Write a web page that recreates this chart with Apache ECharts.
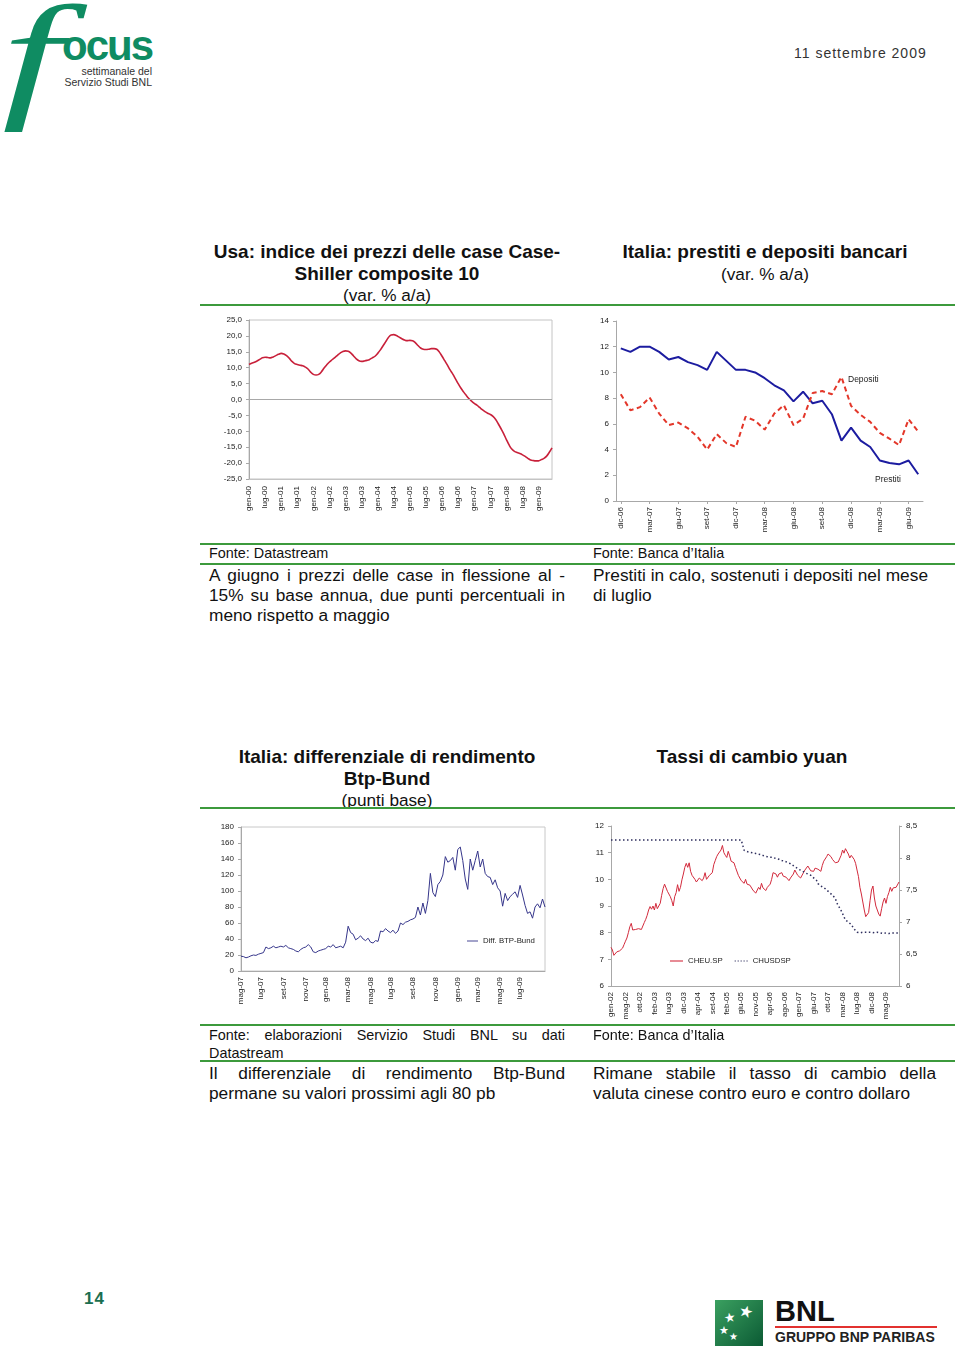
<!DOCTYPE html>
<html><head><meta charset="utf-8">
<script src="https://cdn.jsdelivr.net/npm/echarts@6/dist/echarts.min.js"></script>
<style>
body{margin:0;width:960px;height:1356px;position:relative;background:#fff;overflow:hidden;font-family:"Liberation Sans",Arial,sans-serif;color:#111}
.hr{position:absolute;height:2px;background:#3c9a3c}
.title{position:absolute;text-align:center;font-weight:bold;font-size:19px;line-height:21.5px;white-space:nowrap}
.sub{font-weight:normal;font-size:17.2px}
.src{position:absolute;font-size:14.4px;line-height:18px;white-space:nowrap}
.txt{position:absolute;font-size:17.3px;line-height:20px;white-space:nowrap}
.j{text-align:justify;text-align-last:justify;white-space:normal}
.chart{position:absolute}
</style></head><body>
<!-- header -->
<div style="position:absolute;left:2px;top:-15px;font:italic 140px 'Liberation Serif',serif;color:#0f8c62;line-height:140px;transform:scaleX(1.55);transform-origin:0 0">f</div>
<div style="position:absolute;left:62px;top:24px;font:bold 42px 'Liberation Sans',sans-serif;color:#0f8c62;letter-spacing:-2px;line-height:44px">ocus</div>
<div style="position:absolute;left:40px;width:112px;top:66px;text-align:right;font:10.5px 'Liberation Sans',sans-serif;color:#333;line-height:11px">settimanale del<br>Servizio Studi BNL</div>
<div style="position:absolute;left:794px;top:45px;font:14px 'Liberation Sans',sans-serif;letter-spacing:1px;color:#333">11 settembre 2009</div>

<!-- top titles -->
<div class="title" style="left:187px;width:400px;top:241px">Usa: indice dei prezzi delle case Case-<br>Shiller composite 10<br><span class="sub">(var. % a/a)</span></div>
<div class="title" style="left:565px;width:400px;top:241px">Italia: prestiti e depositi bancari<br><span class="sub">(var. % a/a)</span></div>
<div class="hr" style="left:200px;width:755px;top:304px"></div>

<div id="c1" class="chart" style="left:200px;top:310px;width:360px;height:220px"></div>
<div id="c2" class="chart" style="left:590px;top:310px;width:370px;height:228px"></div>

<div class="hr" style="left:200px;width:755px;top:543px"></div>
<div class="src" style="left:209px;top:544px">Fonte: Datastream</div>
<div class="src" style="left:593px;top:544px">Fonte: Banca d’Italia</div>
<div class="hr" style="left:200px;width:755px;top:563px"></div>
<div class="txt" style="left:209px;top:565px;width:356px">
  <div class="j">A giugno i prezzi delle case in flessione al -</div>
  <div class="j">15% su base annua, due punti percentuali in</div>
  <div>meno rispetto a maggio</div>
</div>
<div class="txt" style="left:593px;top:565px;width:335px">
  <div class="j">Prestiti in calo, sostenuti i depositi nel mese</div>
  <div>di luglio</div>
</div>

<!-- bottom titles -->
<div class="title" style="left:187px;width:400px;top:746px">Italia: differenziale di rendimento<br>Btp-Bund<br><span class="sub">(punti base)</span></div>
<div class="title" style="left:552px;width:400px;top:746px">Tassi di cambio yuan</div>
<div class="hr" style="left:200px;width:755px;top:807px"></div>

<div id="c3" class="chart" style="left:200px;top:815px;width:360px;height:200px"></div>
<div id="c4" class="chart" style="left:590px;top:815px;width:370px;height:212px"></div>

<div class="hr" style="left:200px;width:755px;top:1024px"></div>
<div class="src" style="left:209px;top:1026px;width:356px">
  <div class="j">Fonte: elaborazioni Servizio Studi BNL su dati</div>
  <div>Datastream</div>
</div>
<div class="src" style="left:593px;top:1026px">Fonte: Banca d’Italia</div>
<div class="hr" style="left:200px;width:755px;top:1060px"></div>
<div class="txt" style="left:209px;top:1063px;width:356px">
  <div class="j">Il differenziale di rendimento Btp-Bund</div>
  <div>permane su valori prossimi agli 80 pb</div>
</div>
<div class="txt" style="left:593px;top:1063px;width:343px">
  <div class="j">Rimane stabile il tasso di cambio della</div>
  <div>valuta cinese contro euro e contro dollaro</div>
</div>

<!-- footer -->
<div style="position:absolute;left:84px;top:1289px;font:bold 17px 'Liberation Sans',sans-serif;color:#1b6e50;letter-spacing:1px">14</div>
<div style="position:absolute;left:715px;top:1300px;width:48px;height:46px;background:linear-gradient(135deg,#3aa060,#0b5a34);overflow:hidden">
  <div style="position:absolute;left:24px;top:2px;color:#fff;font:16px 'DejaVu Sans';transform:rotate(15deg)">★</div>
  <div style="position:absolute;left:9px;top:10px;color:#fff;font:13px 'DejaVu Sans';transform:rotate(-10deg)">★</div>
  <div style="position:absolute;left:4px;top:24px;color:#fff;font:11px 'DejaVu Sans'">★</div>
  <div style="position:absolute;left:14px;top:31px;color:#fff;font:10px 'DejaVu Sans'">★</div>
</div>
<div style="position:absolute;left:775px;top:1296px;font:bold 29px 'Liberation Sans',sans-serif;color:#111;line-height:30px">BNL</div>
<div style="position:absolute;left:775px;top:1326px;width:162px;height:2px;background:#e2312f"></div>
<div style="position:absolute;left:775px;top:1330px;font:bold 14px 'Liberation Sans',sans-serif;color:#222;line-height:15px">GRUPPO BNP PARIBAS</div>

<script>
const FONT = '"Liberation Sans",Arial,sans-serif';
const monthAbbr = ['gen','feb','mar','apr','mag','giu','lug','ago','set','ott','nov','dic'];

// ---- Chart 1: Case-Shiller composite 10, monthly gen-00 .. giu-09 (var. % a/a)
const csStartYear = 2000;
const caseShiller = [
 11.0,11.4,11.7,12.1,12.6,13.1,13.3,13.2,13.1,13.4,13.8,14.2,
 14.5,14.3,13.8,13.0,12.0,11.3,11.0,10.8,10.6,10.2,9.6,8.6,
 7.9,7.7,7.9,8.7,9.9,10.9,11.8,12.5,13.2,13.9,14.6,15.1,
 15.3,15.2,14.6,13.7,12.8,12.2,12.0,12.1,12.3,12.6,13.1,13.6,
 14.5,15.6,16.9,18.2,19.5,20.3,20.4,20.1,19.6,19.1,18.7,18.5,
 18.6,18.5,17.9,17.0,16.2,15.8,15.7,15.8,16.0,16.0,15.8,14.9,
 13.6,12.2,10.8,9.3,8.0,6.5,5.0,3.6,2.4,1.3,0.3,-0.5,
 -1.2,-1.8,-2.5,-3.2,-3.8,-4.3,-4.7,-5.3,-6.3,-7.7,-9.2,-10.8,
 -12.6,-14.3,-15.6,-16.3,-16.7,-17.0,-17.4,-17.9,-18.5,-19.0,-19.2,-19.3,
 -19.3,-18.9,-18.5,-17.8,-16.6,-15.2
];
const csCats = caseShiller.map((_, i) => monthAbbr[i % 12] + '-' + String((csStartYear + Math.floor(i / 12)) % 100).padStart(2, '0'));

// ---- Chart 2: prestiti e depositi, dic-06 .. lug-09
const bankCats = ['dic-06','gen-07','feb-07','mar-07','apr-07','mag-07','giu-07','lug-07','ago-07','set-07','ott-07','nov-07',
 'dic-07','gen-08','feb-08','mar-08','apr-08','mag-08','giu-08','lug-08','ago-08','set-08','ott-08','nov-08',
 'dic-08','gen-09','feb-09','mar-09','apr-09','mag-09','giu-09','lug-09'];
const prestiti = [11.87,11.6,12.0,12.0,11.6,11.0,11.2,10.8,10.57,10.2,11.6,10.9,
 10.2,10.2,10.0,9.55,9.0,8.6,7.75,8.5,7.6,7.8,6.75,4.7,
 5.7,4.7,4.2,3.15,2.95,2.85,3.15,2.08];
const depositi = [8.3,7.05,7.3,8.05,6.8,5.9,6.1,5.65,5.0,4.0,5.2,4.5,
 4.2,6.55,6.25,5.55,6.8,7.45,5.9,6.4,8.4,8.55,8.3,9.65,
 7.4,6.7,6.15,5.3,4.85,4.35,6.35,5.4];

// ---- Chart 3: Diff. BTP-Bund, weekly from mid-May 2007 (punti base)
const btpStart = [2007, 4, 9];
const btpBund = [
 18.5,18,16.5,17.5, 19,20,19.5,21,22, 23,30,28,29, 31,29,30,31,30, 32,29,28,27, 25,24,27,29,
 30,33,30,24,23, 25,26,27,28, 31,30,33,29, 30,31,29,36,56, 48,46,39,41, 44,40,38,41,
 36,35,38,37,50, 49,53,50,48, 51,47,50,60, 58,61,62,64,65, 67,80,70,85, 72,88,122,98,93,
 108,112,120,143, 136,138,142,126, 152,155,138,115,102, 140,126,138,150, 130,140,122,118,
 117,108,114,104, 100,81,97,88,93, 96,99,92,107, 95,82,72,74,66, 80,84,79,90, 80
];
const btpCats = btpBund.map((_, i) => {
  const d = new Date(Date.UTC(btpStart[0], btpStart[1], btpStart[2] + 7 * i));
  return monthAbbr[d.getUTCMonth()] + '-' + String(d.getUTCFullYear() % 100).padStart(2, '0');
});
const btpLabelShown = (i) => {
  if (i === 0) return true;
  if (i > btpCats.length - 4) return false;
  if (btpCats[i] === btpCats[i - 1]) return false;
  return monthAbbr.indexOf(btpCats[i].slice(0, 3)) % 2 === 0;
};

// ---- Chart 4: yuan exchange rates, biweekly from gen-02
const fxTicks = ['gen-02','mag-02','ott-02','feb-03','lug-03','dic-03','apr-04','set-04','feb-05','giu-05',
 'nov-05','apr-06','ago-06','gen-07','giu-07','ott-07','mar-08','lug-08','dic-08','mag-09'];
const cheu = [
 7.45,7.35,7.15,7.22,7.28,7.25,7.32,7.30,7.42,7.55,
 7.68,7.80,8.00,8.22,8.35,8.10,8.05,8.12,8.05,8.15,
 8.08,8.12,8.25,8.38,8.50,8.65,8.85,8.98,8.88,9.00,
 8.85,9.10,8.90,8.85,9.10,9.40,9.65,9.82,9.75,9.55,
 9.50,9.35,9.20,9.00,9.35,9.50,9.80,9.55,9.70,9.98,
 10.20,10.45,10.60,10.45,10.62,10.30,10.15,10.20,10.00,9.90,
 9.85,10.05,10.12,9.95,10.05,10.25,10.00,10.05,10.15,10.10,
 10.25,10.55,10.70,10.85,10.95,11.00,11.10,11.27,11.00,10.90,
 10.82,11.05,10.88,10.68,10.75,10.62,10.45,10.38,10.15,10.05,
 9.95,10.02,9.85,10.00,9.82,9.88,9.78,9.75,9.60,9.55,
 9.48,9.55,9.70,9.62,9.85,9.68,9.62,9.58,9.70,9.75,
 9.82,10.00,10.25,10.32,10.20,10.08,10.20,10.15,10.25,10.12,
 10.18,10.08,10.02,9.95,10.05,10.12,10.20,10.35,10.30,10.15,
 10.10,10.05,10.12,10.25,10.35,10.42,10.50,10.45,10.32,10.25,
 10.30,10.42,10.45,10.38,10.45,10.30,10.52,10.68,10.75,10.85,
 10.95,11.00,10.85,10.75,10.70,10.62,10.55,10.65,10.58,10.90,
 11.10,10.98,11.15,11.05,10.95,10.80,10.90,10.85,10.75,10.60,
 10.35,10.10,9.70,9.45,9.15,8.85,8.60,8.55,8.75,9.20,
 9.60,9.75,9.30,9.00,8.85,8.70,8.62,8.90,9.15,9.30,
 9.10,9.35,9.50,9.70,9.55,9.68,9.62,9.70,9.75,9.90
];
const chusd = [
 8.28,8.28,8.28,8.28,8.28,8.28,8.28,8.28,8.28,8.28,
 8.28,8.28,8.28,8.28,8.28,8.28,8.28,8.28,8.28,8.28,
 8.28,8.28,8.28,8.28,8.28,8.28,8.28,8.28,8.28,8.28,
 8.28,8.28,8.28,8.28,8.28,8.28,8.28,8.28,8.28,8.28,
 8.28,8.28,8.28,8.28,8.28,8.28,8.28,8.28,8.28,8.28,
 8.28,8.28,8.28,8.28,8.28,8.28,8.28,8.28,8.28,8.28,
 8.28,8.28,8.28,8.28,8.28,8.28,8.28,8.28,8.28,8.28,
 8.28,8.28,8.28,8.28,8.28,8.28,8.28,8.28,8.28,8.28,
 8.28,8.28,8.28,8.28,8.28,8.28,8.28,8.28,8.28,8.28,
 8.28,8.28,8.12,8.11,8.10,8.10,8.09,8.09,8.08,8.08,
 8.07,8.06,8.06,8.05,8.05,8.04,8.03,8.03,8.02,8.02,
 8.01,8.02,8.01,8.00,7.99,7.98,7.98,7.97,7.96,7.96,
 7.95,7.94,7.93,7.92,7.91,7.90,7.88,7.87,7.85,7.84,
 7.82,7.81,7.80,7.79,7.77,7.76,7.75,7.74,7.73,7.71,
 7.69,7.67,7.65,7.60,7.57,7.56,7.55,7.54,7.53,7.50,
 7.48,7.46,7.44,7.42,7.40,7.37,7.30,7.26,7.22,7.18,
 7.13,7.08,7.03,7.01,7.00,6.99,6.96,6.93,6.89,6.86,
 6.84,6.83,6.83,6.83,6.84,6.85,6.84,6.83,6.84,6.86,
 6.84,6.83,6.83,6.83,6.84,6.83,6.83,6.83,6.82,6.83,
 6.83,6.83,6.82,6.83,6.83,6.83,6.83,6.83,6.83,6.83
];
const fxCats = cheu.map((_, i) => String(i));

const AX = '#a8a8a8';
const LBL = { color: '#222', fontSize: 8, fontFamily: FONT };
const LINE_ICON = 'path://M0,0h12v1h-12z';
const DOT_ICON = 'path://M0,0h1v1h-1z M2.5,0h1v1h-1z M5,0h1v1h-1z M7.5,0h1v1h-1z M10,0h1v1h-1z';

// Chart 1
echarts.init(document.getElementById('c1')).setOption({
  animation: false,
  grid: { left: 49, top: 10, width: 303, height: 159, show: true, borderColor: '#c4c4c4', borderWidth: 1, outerBoundsMode: 'none' },
  xAxis: { type: 'category', data: csCats, boundaryGap: false,
    axisLine: { show: true, onZero: false, lineStyle: { color: '#c4c4c4' } },
    axisTick: { show: false },
    axisLabel: Object.assign({ interval: 5, rotate: 90, margin: 7 }, LBL) },
  yAxis: { type: 'value', min: -25, max: 25, interval: 5,
    axisLine: { show: true, lineStyle: { color: AX } },
    axisTick: { show: true, length: 3, lineStyle: { color: AX } },
    splitLine: { show: false },
    axisLabel: Object.assign({ margin: 7, formatter: v => v.toFixed(1).replace('.', ',') }, LBL) },
  series: [{ type: 'line', data: caseShiller, smooth: 0.4, symbol: 'none',
    lineStyle: { color: '#c8203a', width: 1.6 },
    markLine: { silent: true, symbol: 'none', label: { show: false },
      lineStyle: { color: '#a8a8a8', type: 'solid', width: 1 }, data: [{ yAxis: 0 }] } }]
});

// Chart 2
echarts.init(document.getElementById('c2')).setOption({
  animation: false,
  grid: { left: 26, top: 11, width: 307, height: 180, outerBoundsMode: 'none' },
  xAxis: { type: 'category', data: bankCats, boundaryGap: true,
    axisLine: { show: true, lineStyle: { color: AX } },
    axisTick: { show: true, interval: 2, alignWithLabel: true, length: 3, lineStyle: { color: AX } },
    axisLabel: Object.assign({ interval: 2, rotate: 90, margin: 6 }, LBL) },
  yAxis: { type: 'value', min: 0, max: 14, interval: 2,
    axisLine: { show: true, lineStyle: { color: AX } },
    axisTick: { show: true, length: 3, lineStyle: { color: AX } },
    splitLine: { show: false },
    axisLabel: Object.assign({ margin: 7 }, LBL) },
  graphic: [
    { type: 'text', left: 258, top: 65, style: { text: 'Depositi', fill: '#222', font: '8.5px ' + FONT } },
    { type: 'text', left: 285, top: 165, style: { text: 'Prestiti', fill: '#222', font: '8.5px ' + FONT } }
  ],
  series: [
    { name: 'Prestiti', type: 'line', data: prestiti, symbol: 'none', lineStyle: { color: '#1c1ca0', width: 2 } },
    { name: 'Depositi', type: 'line', data: depositi, symbol: 'none', lineStyle: { color: '#e3372a', width: 2, type: [5, 3.5] } }
  ]
});

// Chart 3
echarts.init(document.getElementById('c3')).setOption({
  animation: false,
  grid: { left: 41, top: 12, width: 304, height: 144, show: true, borderColor: '#c8c8c8', borderWidth: 1, outerBoundsMode: 'none' },
  legend: { left: 262, top: 117, itemWidth: 11, itemHeight: 1.2, itemGap: 4,
    textStyle: { color: '#222', fontSize: 7.8, fontFamily: FONT },
    data: [{ name: 'Diff. BTP-Bund', icon: LINE_ICON }] },
  xAxis: { type: 'category', data: btpCats, boundaryGap: false,
    axisLine: { show: true, lineStyle: { color: AX } },
    axisTick: { show: false },
    axisLabel: Object.assign({ interval: (i) => btpLabelShown(i), rotate: 90, margin: 6 }, LBL) },
  yAxis: { type: 'value', min: 0, max: 180, interval: 20,
    axisLine: { show: true, lineStyle: { color: AX } },
    axisTick: { show: true, length: 3, lineStyle: { color: AX } },
    splitLine: { show: false },
    axisLabel: Object.assign({ margin: 7 }, LBL) },
  series: [{ name: 'Diff. BTP-Bund', type: 'line', data: btpBund, symbol: 'none',
    itemStyle: { color: '#35358a' }, lineStyle: { color: '#35358a', width: 1 } }]
});

// Chart 4
echarts.init(document.getElementById('c4')).setOption({
  animation: false,
  grid: { left: 21, top: 11, width: 288, height: 160, outerBoundsMode: 'none' },
  legend: { left: 75, top: 137, itemWidth: 13, itemHeight: 1.4, itemGap: 12,
    textStyle: { color: '#222', fontSize: 7.8, fontFamily: FONT },
    data: [{ name: 'CHEU.SP', icon: LINE_ICON }, { name: 'CHUSDSP', icon: DOT_ICON }] },
  xAxis: { type: 'category', data: fxCats, boundaryGap: false,
    axisLine: { show: true, lineStyle: { color: AX } },
    axisTick: { show: false },
    axisLabel: Object.assign({ interval: (i) => i % 10 === 0, rotate: 90, margin: 6,
      formatter: (v, i) => fxTicks[i / 10] || '' }, LBL) },
  yAxis: [
    { type: 'value', min: 6, max: 12, interval: 1, position: 'left',
      axisLine: { show: true, lineStyle: { color: AX } },
      axisTick: { show: true, length: 3, lineStyle: { color: AX } },
      splitLine: { show: false },
      axisLabel: Object.assign({ margin: 7 }, LBL) },
    { type: 'value', min: 6, max: 8.5, interval: 0.5, position: 'right',
      axisLine: { show: true, lineStyle: { color: AX } },
      axisTick: { show: true, length: 3, lineStyle: { color: AX } },
      splitLine: { show: false },
      axisLabel: Object.assign({ margin: 7, formatter: v => String(v).replace('.', ',') }, LBL) }
  ],
  series: [
    { name: 'CHEU.SP', type: 'line', data: cheu, symbol: 'none', yAxisIndex: 0,
      itemStyle: { color: '#d22a3c' }, lineStyle: { color: '#d22a3c', width: 1 } },
    { name: 'CHUSDSP', type: 'line', data: chusd, symbol: 'none', yAxisIndex: 1,
      itemStyle: { color: '#2e2e5e' }, lineStyle: { color: '#2e2e5e', width: 1.5, type: [1.5, 2.5] } }
  ]
});
</script>
</body></html>
